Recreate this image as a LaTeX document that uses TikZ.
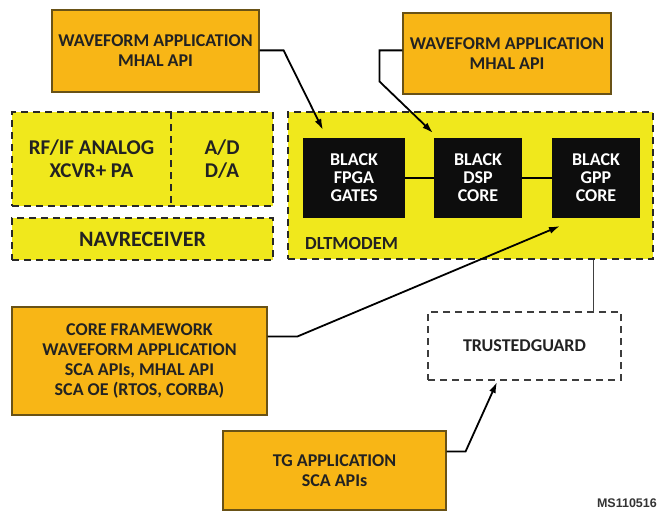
\documentclass[tikz,border=0pt]{standalone}
\usepackage{fontspec}
\setmainfont{Carlito}
\newfontfamily\tagfont{Liberation Sans}
\usetikzlibrary{arrows.meta,calc}
\definecolor{appfill}{RGB}{248,182,22}
\definecolor{appedge}{RGB}{105,82,22}
\definecolor{hwfill}{RGB}{240,232,28}
\definecolor{dashcol}{RGB}{40,40,40}
\definecolor{inkc}{RGB}{34,34,34}
\begin{document}
\begin{tikzpicture}[x=1pt,y=-1pt,
  appbox/.style={draw=appedge, line width=1.2pt, fill=appfill, text=inkc,
    align=center, inner sep=0pt, font=\bfseries\fontsize{18}{20}\selectfont},
  hwbox/.style={draw=dashcol, line width=2.3pt, dash pattern=on 7pt off 5pt,
    fill=hwfill, inner sep=0pt},
  hwdash/.style={draw=dashcol, line width=2.3pt, dash pattern=on 7pt off 5pt},
  hwtext/.style={text=inkc, align=center, inner sep=0pt,
    font=\bfseries\fontsize{21}{23}\selectfont},
  chip/.style={fill=black!95, text=white, align=center, inner sep=0pt,
    font=\bfseries\fontsize{18}{18}\selectfont},
  guardbox/.style={draw=dashcol!90, line width=2pt, dash pattern=on 7pt off 5pt,
    fill=white, text=inkc, inner sep=0pt, font=\bfseries\fontsize{18}{20}\selectfont},
  conn/.style={draw=black, line width=1.8pt, -{Latex[length=11pt,width=7pt]}},
  link/.style={draw=black, line width=1.4pt},
  thin/.style={draw=black!75, line width=0.9pt}
]
\useasboundingbox (0,0) rectangle (660,511);

% software boxes
\node[appbox, minimum width=207pt, minimum height=82pt] (wf1) at (155.5,51)
  {WAVEFORM APPLICATION\\MHAL API};
\node[appbox, minimum width=208pt, minimum height=81pt] (wf2) at (507,53.5)
  {WAVEFORM APPLICATION\\MHAL API};
\node[appbox, minimum width=255pt, minimum height=108pt] (core) at (139.5,361)
  {CORE FRAMEWORK\\WAVEFORM APPLICATION\\SCA APIs, MHAL API\\SCA OE (RTOS, CORBA)};
\node[appbox, minimum width=223pt, minimum height=79pt] (tgapp) at (334.5,470.5)
  {TG APPLICATION\\SCA APIs};

% radio hardware
\node[hwbox, minimum width=261pt, minimum height=94pt] (rfbox) at (142.5,159) {};
\coordinate (divtop) at (171,112);
\coordinate (divbot) at (171,206);
\draw[hwdash] (divtop) -- (divbot);
\node[hwtext] (rf) at (91.5,159) {RF/IF ANALOG\\XCVR+ PA};
\node[hwtext] (ad) at (222,159) {A/D\\D/A};
\node[hwbox, minimum width=261pt, minimum height=42pt, font=\bfseries\fontsize{22}{24}\selectfont,
  text=inkc] (nav) at (142.5,239) {NAVRECEIVER};

% modem
\node[hwbox, minimum width=365pt, minimum height=147pt] (dlt) at (470.5,185.5) {};
\node[text=inkc, anchor=west, inner sep=0pt, font=\bfseries\fontsize{18.5}{20}\selectfont]
  (dltlabel) at (305,243) {DLTMODEM};
\node[chip, minimum width=102pt, minimum height=80pt] (fpga) at (354,178) {BLACK\\FPGA\\GATES};
\node[chip, minimum width=88pt, minimum height=80pt] (dsp) at (478,178) {BLACK\\DSP\\CORE};
\node[chip, minimum width=88pt, minimum height=80pt] (gpp) at (596,178) {BLACK\\GPP\\CORE};
\draw[link] (fpga) -- (dsp);
\draw[link] (dsp) -- (gpp);

% trusted guard
\node[guardbox, minimum width=193pt, minimum height=68pt] (tg) at (524.5,346) {TRUSTEDGUARD};
\coordinate (gx) at (593,0);
\draw[thin] (dlt.south -| gx) -- (tg.north -| gx);

% figure tag
\node[anchor=east, inner sep=0pt, text=black!80, font=\tagfont\bfseries\fontsize{12.5}{15}\selectfont]
  (tag) at (657,503) {MS110516};

% connectors
\coordinate (fpgatip) at (323,130);
\coordinate (dsptip) at (433,133);
\coordinate (gpptip) at (560,226);
\coordinate (tgtip) at (497,382);
\draw[conn] ($(wf1.north east)+(0,41)$) -- ++(24,0) -- (fpgatip);
\draw[conn] ($(wf2.north west)+(0,38)$) -- ++(-23,0) -- ++(0,31) -- (dsptip);
\draw[conn] ($(core.north east)+(0,30)$) -- ++(30,0) -- (gpptip);
\draw[conn] ($(tgapp.north east)+(0,21)$) -- ++(19,0) -- (tgtip);
\end{tikzpicture}
\end{document}
